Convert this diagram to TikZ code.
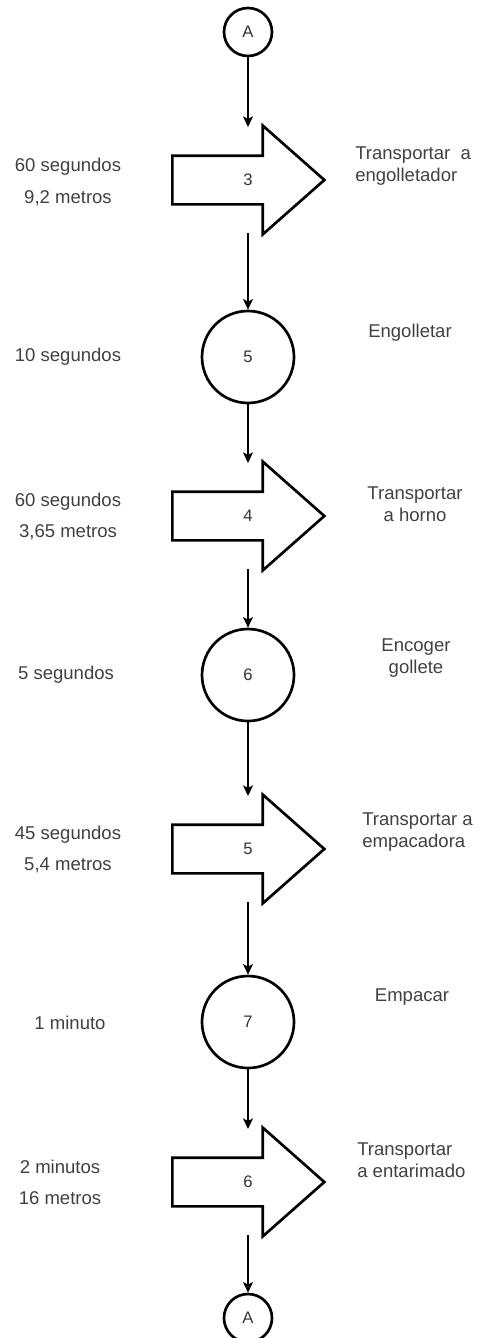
\documentclass[tikz,border=0pt]{standalone}
\usepackage{fontspec}
\setmainfont{Liberation Sans}
\usetikzlibrary{shapes.arrows}
\usetikzlibrary{arrows.meta}
\usetikzlibrary{calc}

\begin{document}
\begin{tikzpicture}[x=0.75pt,y=-0.75pt,
  op/.style={draw,circle,line width=2pt,minimum size=69pt,inner sep=0pt,
    font=\fontsize{12.5}{14}\selectfont,text=black!80},
  con/.style={draw,circle,line width=2pt,minimum size=36pt,inner sep=0pt,
    font=\fontsize{12.5}{14}\selectfont,text=black!80},
  tr/.style={draw,single arrow,anchor=tail,line width=2pt,minimum height=114pt,
    single arrow head extend=22.5pt,single arrow tip angle=82.9,
    text height=7.9pt,text depth=0pt,inner xsep=0pt,inner ysep=13.3pt},
  num/.style={font=\fontsize{12.5}{14}\selectfont,text=black!80},
  lnote/.style={align=center,inner sep=0pt,
    font=\fontsize{13.9}{23.3}\selectfont,text=black!75},
  rnote/.style={align=center,inner sep=0pt,
    font=\fontsize{13.9}{16.5}\selectfont,text=black!75},
  conn/.style={line width=1.1pt,-{Stealth[length=8pt,width=7.5pt,inset=2pt]}}]
\useasboundingbox (0,0) rectangle (480,1338);
\draw
(248,32) node[con](a1){A}
(171,180) node[tr](t3){}
(248,357) node[op](c5){5}
(171,516) node[tr](t4){}
(248,675) node[op](c6){6}
(171,849) node[tr](t5){}
(248,1022) node[op](c7){7}
(171,1182) node[tr](t6){}
(248,1318) node[con](a2){A}
;
%%% Times and distances
\draw
(68,182) node[lnote](l3){60 segundos\\9,2 metros}
(68,357) node[lnote](l5){10 segundos}
(68,516) node[lnote](l4){60 segundos\\3,65 metros}
(66,675) node[lnote](l6){5 segundos}
(68,849) node[lnote](l5b){45 segundos\\5,4 metros}
(70,1023) node[lnote](l7){1 minuto}
(60,1182) node[lnote](l6b){2 minutos\\16 metros}
;
%%% Activity names
\draw
(355,166) node[rnote,anchor=west,align=left](r3){Transportar\ \ a\\engolletador}
(410,333) node[rnote](r5){Engolletar}
(415,504) node[rnote](r4){Transportar\\a horno}
(416,658) node[rnote](r6){Encoger\\gollete}
(362,832) node[rnote,anchor=west,align=left](r5b){Transportar a\\empacadora}
(412,997) node[rnote](r7){Empacar}
(357,1160) node[rnote,anchor=west,align=left](r6b){Transportar\\a entarimado}
;
%%% Numbers and head corners of the transport arrows
\foreach \n/\l in {t3/3,t4/4,t5/5,t6/6}{
\coordinate (\n-mid) at (a1 |- \n.tail);
\node[num](\n-num) at (\n-mid){\l};
\coordinate (\n-top) at ($(\n-mid)+(0,-53)$);
\coordinate (\n-bot) at ($(\n-mid)+(0,53)$);
}
%%% Flow
\foreach \x/\y in {a1.south/t3-top, t3-bot/c5.north, c5.south/t4-top, t4-bot/c6.north,
c6.south/t5-top, t5-bot/c7.north, c7.south/t6-top, t6-bot/a2.north}{
\draw[conn](\x) -- (\y);
}

\end{tikzpicture}
\end{document}
